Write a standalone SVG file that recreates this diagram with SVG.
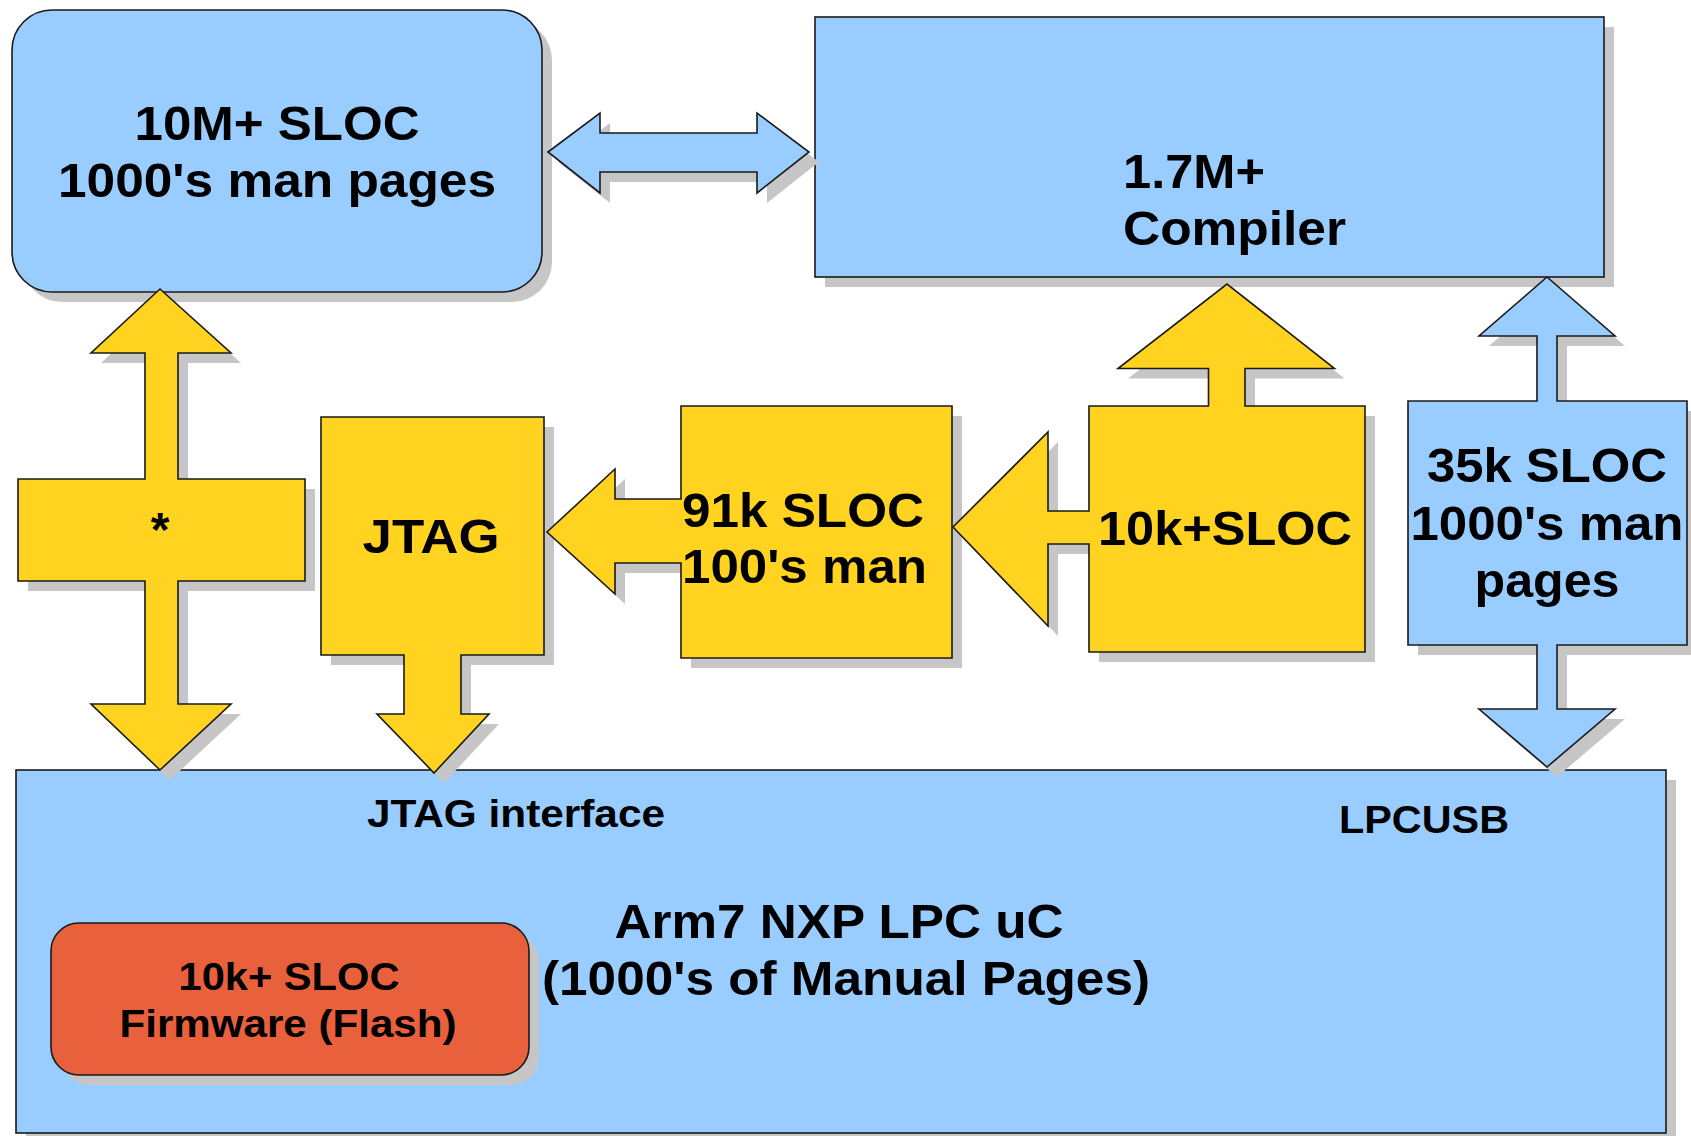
<svg xmlns="http://www.w3.org/2000/svg" xmlns:xlink="http://www.w3.org/1999/xlink" width="1691" height="1136" viewBox="0 0 1691 1136">
<style>
.sh{fill:#c6c6c6;stroke:none}
.blue{fill:#99ccff;stroke:#1a1a1a;stroke-width:1.6}
.yel{fill:#ffd320;stroke:#1a1a1a;stroke-width:1.6}
.red{fill:#e9603d;stroke:#1a1a1a;stroke-width:1.6}
text{font-family:"Liberation Sans",Arial,sans-serif;font-weight:bold;fill:#000}
.big{font-size:48px}
.sm{font-size:38px}
.c{text-anchor:middle}
</style>
<defs>
<rect id="sA" x="12" y="10" width="530" height="282" rx="40" ry="40"/>
<rect id="sB" x="815" y="17" width="789" height="260"/>
<polygon id="sArr" points="548,152 600,113 600,133 757,133 757,113 809,152 757,193 757,172 600,172 600,193"/>
<rect id="sH" x="16" y="770" width="1650" height="363"/>
<rect id="sI" x="51" y="923" width="478" height="152" rx="28" ry="28"/>
<polygon id="sC" points="160,289 231,353 178,353 178,479 305,479 305,581 178,581 178,704 231,704 160,770 91,704 145,704 145,581 18,581 18,479 145,479 145,353 91,353"/>
<polygon id="sD" points="321,417 544,417 544,655 461,655 461,714 489,714 434,773 377,714 404,714 404,655 321,655"/>
<polygon id="sE" points="681,406 952,406 952,658 681,658 681,563 615,563 615,594 547,532 615,469 615,499 681,499"/>
<polygon id="sF" points="1089,406 1208.5,406 1208.5,368.5 1118,368.5 1227,284 1334.5,368.5 1245,368.5 1245,406 1365,406 1365,652 1089,652 1089,544 1048,544 1048,626 953,527 1048,432 1048,511 1089,511"/>
<polygon id="sG" points="1408,401 1537,401 1537,336 1479,336 1547,277 1615,336 1557,336 1557,401 1687,401 1687,645 1557,645 1557,709 1615,709 1547,767 1479,709 1537,709 1537,645 1408,645"/>
</defs>
<rect x="0" y="0" width="1691" height="1136" fill="#ffffff"/>

<g id="node-linux">
<use xlink:href="#sA" class="sh" transform="translate(10,10)"/>
<use xlink:href="#sA" class="blue"/>
<text class="big c" x="277" y="140" textLength="285" lengthAdjust="spacingAndGlyphs">10M+ SLOC</text>
<text class="big c" x="277" y="197" textLength="438" lengthAdjust="spacingAndGlyphs">1000's man pages</text>
</g>

<g id="node-compiler">
<use xlink:href="#sB" class="sh" transform="translate(10,10)"/>
<use xlink:href="#sB" class="blue"/>
<text class="big" x="1123" y="188" textLength="142" lengthAdjust="spacingAndGlyphs">1.7M+</text>
<text class="big" x="1123" y="245" textLength="223" lengthAdjust="spacingAndGlyphs">Compiler</text>
</g>

<g id="connectors">
<use xlink:href="#sArr" class="sh" transform="translate(10,10)"/>
<use xlink:href="#sArr" class="blue"/>
</g>

<g id="node-mcu">
<use xlink:href="#sH" class="sh" transform="translate(10,10)"/>
<use xlink:href="#sH" class="blue"/>
<text class="sm c" x="516" y="827" textLength="298" lengthAdjust="spacingAndGlyphs">JTAG interface</text>
<text class="sm c" x="1424" y="833" textLength="170" lengthAdjust="spacingAndGlyphs">LPCUSB</text>
<text class="big c" x="839" y="938" textLength="449" lengthAdjust="spacingAndGlyphs">Arm7 NXP LPC uC</text>
<text class="big c" x="846" y="995" textLength="608" lengthAdjust="spacingAndGlyphs">(1000's of Manual Pages)</text>
</g>

<g id="node-firmware">
<use xlink:href="#sI" class="sh" transform="translate(10,10)"/>
<use xlink:href="#sI" class="red"/>
<text class="sm c" x="289" y="990" textLength="221" lengthAdjust="spacingAndGlyphs">10k+ SLOC</text>
<text class="sm c" x="288" y="1037" textLength="337" lengthAdjust="spacingAndGlyphs">Firmware (Flash)</text>
</g>

<g id="node-star">
<use xlink:href="#sC" class="sh" transform="translate(10,10)"/>
<use xlink:href="#sC" class="yel"/>
<text class="big c" x="160" y="546">*</text>
</g>

<g id="node-jtag">
<use xlink:href="#sD" class="sh" transform="translate(10,10)"/>
<use xlink:href="#sD" class="yel"/>
<text class="big c" x="431" y="553" textLength="137" lengthAdjust="spacingAndGlyphs">JTAG</text>
</g>

<g id="node-91k">
<use xlink:href="#sE" class="sh" transform="translate(10,10)"/>
<use xlink:href="#sE" class="yel"/>
<text class="big" x="682" y="527" textLength="242" lengthAdjust="spacingAndGlyphs">91k SLOC</text>
<text class="big" x="682" y="583" textLength="245" lengthAdjust="spacingAndGlyphs">100's man</text>
</g>

<g id="node-10k">
<use xlink:href="#sF" class="sh" transform="translate(10,10)"/>
<use xlink:href="#sF" class="yel"/>
<text class="big c" x="1225" y="545" textLength="254" lengthAdjust="spacingAndGlyphs">10k+SLOC</text>
</g>

<g id="node-35k">
<use xlink:href="#sG" class="sh" transform="translate(10,10)"/>
<use xlink:href="#sG" class="blue"/>
<text class="big c" x="1547" y="482" textLength="240" lengthAdjust="spacingAndGlyphs">35k SLOC</text>
<text class="big c" x="1547" y="540" textLength="273" lengthAdjust="spacingAndGlyphs">1000's man</text>
<text class="big c" x="1547" y="597" textLength="145" lengthAdjust="spacingAndGlyphs">pages</text>
</g>
</svg>
